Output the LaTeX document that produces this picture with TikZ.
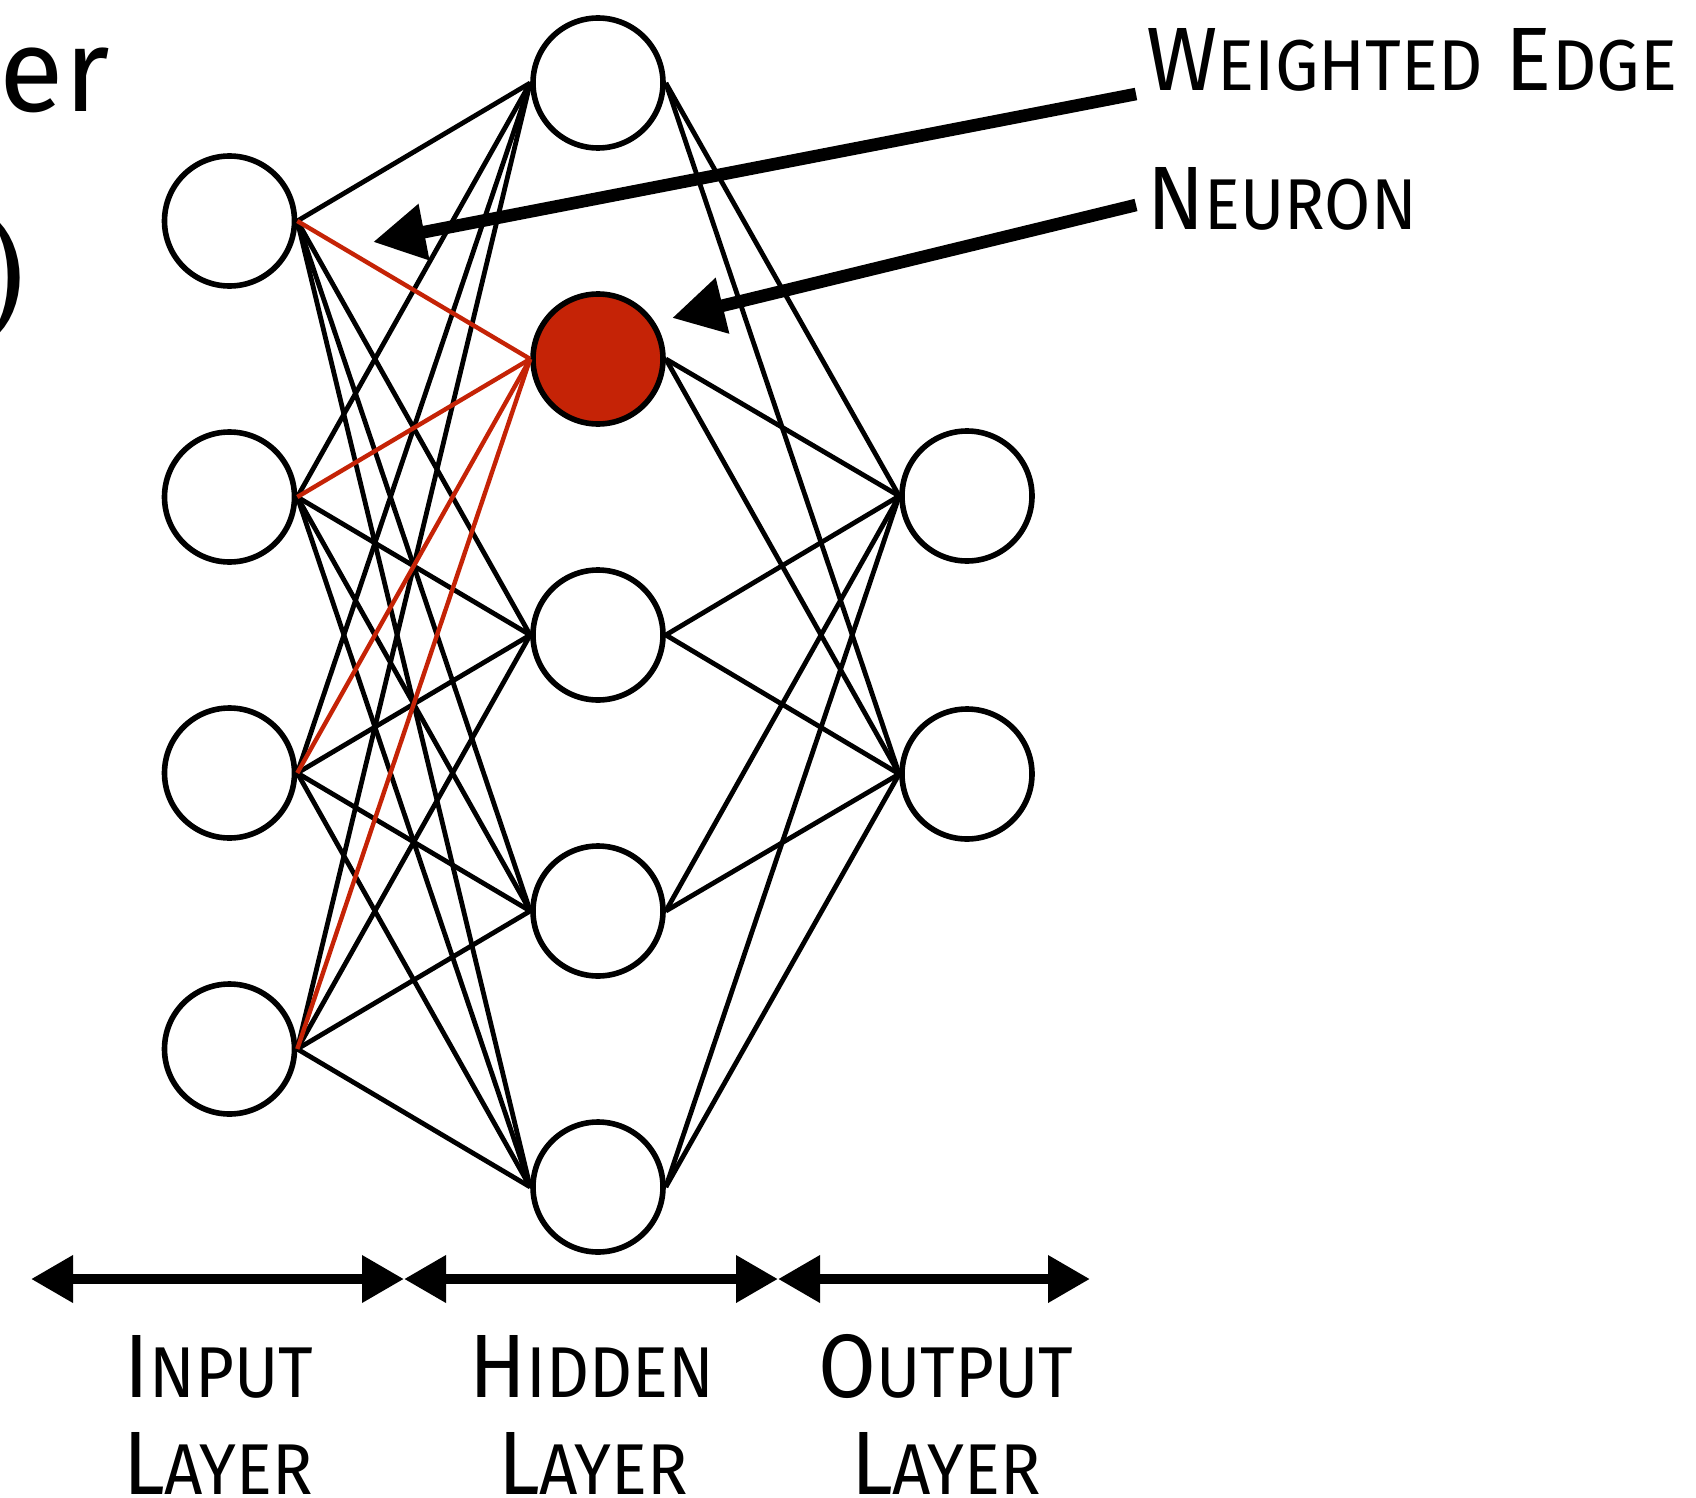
\documentclass[tikz,border=0pt]{standalone}
\usepackage{fontspec}
\newfontfamily\labelfont{Fira Sans}[FakeStretch=0.93]
\newfontfamily\toplabelfont{Fira Sans}[FakeStretch=0.96]
\newfontfamily\titlefont{Fira Sans}
\usetikzlibrary{arrows.meta}
\definecolor{nred}{RGB}{197,35,6}
\newcommand\capL[1]{{\fontsize{45pt}{45pt}\selectfont #1}}
\newcommand\capS[1]{{\fontsize{36pt}{36pt}\selectfont #1}}
\begin{document}
\begin{tikzpicture}[x=0.5pt,y=-0.5pt,
  neuron/.style={circle, draw=black, line width=2.8pt, minimum size=65pt, inner sep=0pt, fill=white},
  active/.style={neuron, fill=nred},
  edge/.style={line width=2.4pt, draw=black},
  redge/.style={line width=2.2pt, draw=nred},
  pointer/.style={line width=6.3pt, -{Triangle[length=26pt,width=27pt]}},
  layerspan/.style={line width=5pt, {Triangle[length=21pt,width=22.5pt]}-{Triangle[length=21pt,width=22.5pt]}},
  lab/.style={inner sep=0pt, font=\labelfont, anchor=base}
]
\useasboundingbox (0,0) rectangle (1696,1498);
\clip (0,0) rectangle (1696,1498);

% cut-off title text
\node[inner sep=0pt, anchor=base east, font=\titlefont\fontsize{59pt}{59pt}\selectfont] (title) at (110,112) {er};
\node[inner sep=0pt, anchor=base east, font=\bfseries\fontsize{65pt}{65pt}\selectfont] (paren) at (35,310) {)};

% neurons
\foreach \k/\y in {1/221,2/497,3/773,4/1049}
  \node[neuron] (i\k) at (229.5,\y) {};
\foreach \k/\y in {1/83,3/635,4/911,5/1187}
  \node[neuron] (h\k) at (598,\y) {};
\node[active] (h2) at (598,359) {};
\foreach \k/\y in {1/496,2/774}
  \node[neuron] (o\k) at (967,\y) {};

% edges
\foreach \i in {1,...,4}
  \foreach \h in {1,3,4,5}
    \draw[edge] (i\i.east) -- (h\h.west);
\foreach \h in {1,...,5}
  \foreach \o in {1,2}
    \draw[edge] (h\h.east) -- (o\o.west);
\foreach \i in {1,...,4}
  \draw[redge] (i\i.east) -- (h2.west);

% pointers
\coordinate (weStart) at (1136,94);
\coordinate (weTip) at (373,242);
\coordinate (neStart) at (1136,205);
\coordinate (neTip) at (672,318);
\draw[pointer] (weStart) -- (weTip);
\draw[pointer] (neStart) -- (neTip);

\node[inner sep=0pt, anchor=base west, font=\toplabelfont] (welab) at (1146,91) {\capL{W}\capS{EIGHTED}\capL{ E}\capS{DGE}};
\node[inner sep=0pt, anchor=base west, font=\labelfont] (nelab) at (1147,230) {\capL{N}\capS{EURON}};

% layer spans
\coordinate (s0) at (31,1279);
\coordinate (s1) at (404,1279);
\coordinate (s2) at (778,1279);
\coordinate (s3) at (1090,1279);
\draw[layerspan] (s0) -- (s1);
\draw[layerspan] (s1) -- (s2);
\draw[layerspan] (s2) -- (s3);

\node[lab] (inA) at (219,1397) {\capL{I}\capS{NPUT}};
\node[lab] (inB) at (218,1494) {\capL{L}\capS{AYER}};
\node[lab] (hiA) at (592,1397) {\capL{H}\capS{IDDEN}};
\node[lab] (hiB) at (593,1494) {\capL{L}\capS{AYER}};
\node[lab] (ouA) at (946,1397) {\capL{O}\capS{UTPUT}};
\node[lab] (ouB) at (946,1494) {\capL{L}\capS{AYER}};
\end{tikzpicture}
\end{document}
